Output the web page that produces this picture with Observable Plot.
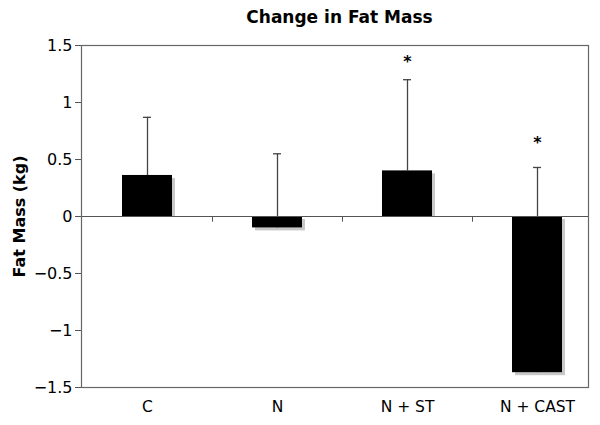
<!DOCTYPE html>
<html><head><meta charset="utf-8">
<script src="https://cdn.jsdelivr.net/npm/d3@7"></script>
<script src="https://cdn.jsdelivr.net/npm/@observablehq/plot@0.6"></script>
<style>
body{margin:0;background:#fff;font-family:"DejaVu Sans",Verdana,sans-serif;}
#title{height:30px;padding-top:2px;line-height:30px;font-weight:bold;font-size:17px;text-align:center;padding-left:79px;width:521px;color:#000;}
</style></head><body>
<div id="title">Change in Fat Mass</div>
<div id="chart"></div>
<script>
const categories = ["C", "N", "N + ST", "N + CAST"];
const means = [0.36, -0.10, 0.40, -1.37];
const errTops = [0.87, 0.55, 1.20, 0.43];
const starY = [null, null, 1.37, 0.66];
const yTicks = [-1.5, -1, -0.5, 0, 0.5, 1, 1.5];
const yLabel = "Fat Mass (kg)";

const data = categories.map((c, i) => ({cat: c, v: means[i], hi: errTops[i]}));
const stars = categories.map((c, i) => ({cat: c, y: starY[i]})).filter(d => d.y != null);
const fmt = d => d < 0 ? "\u2212" + Math.abs(d) : String(d);

const chart = Plot.plot({
  width: 600,
  height: 393,
  marginLeft: 81,
  marginRight: 12,
  marginTop: 13,
  marginBottom: 38,
  style: {fontFamily: "DejaVu Sans, Verdana, sans-serif", fontSize: "16px", color: "#000", background: "#fff"},
  x: {domain: categories, paddingInner: 0.615, paddingOuter: 0.2575, align: 0.61, axis: null},
  y: {domain: [-1.5, 1.5], axis: null},
  marks: [
    Plot.barY(data.filter(d => d.v > 0), {x: "cat", y: "v", fill: "#c8c8c8", dx: 3, dy: 3, insetBottom: 3}),
    Plot.barY(data.filter(d => d.v < 0), {x: "cat", y: "v", fill: "#c8c8c8", dx: 3, dy: 3}),
    Plot.ruleX(data, {x: "cat", y1: "v", y2: "hi", stroke: "#444", strokeWidth: 1.3}),
    Plot.tickY(data, {x: "cat", y: "hi", stroke: "#444", strokeWidth: 1.3, insetLeft: 21, insetRight: 21}),
    Plot.barY(data, {x: "cat", y: "v", fill: "#000"}),
    Plot.ruleY([0], {stroke: "#555", strokeWidth: 1.2}),
    Plot.ruleX(categories.slice(0, 3), {x: d => d, y1: 0, y2: -0.05, dx: 65, stroke: "#555"}),
    Plot.frame({stroke: "#666", strokeWidth: 1.2}),
    Plot.axisY({ticks: yTicks, tickFormat: fmt, tickSize: 6, tickPadding: 3, fontSize: 16, stroke: "#555", fill: "#000", label: null}),
    Plot.axisX({tickSize: 0, tickPadding: 13, fontSize: 15.5, fill: "#000", label: null}),
    Plot.text(stars, {x: "cat", y: "y", text: () => "*", fontSize: 16, fontWeight: "bold", dy: 2, fill: "#000"}),
    Plot.text([yLabel], {frameAnchor: "left", textAnchor: "middle", lineAnchor: "middle", rotate: -90, dx: -62, text: d => d, fontWeight: "bold", fontSize: 16, fill: "#000"})
  ]
});
document.getElementById("chart").appendChild(chart);
</script>
</body></html>
